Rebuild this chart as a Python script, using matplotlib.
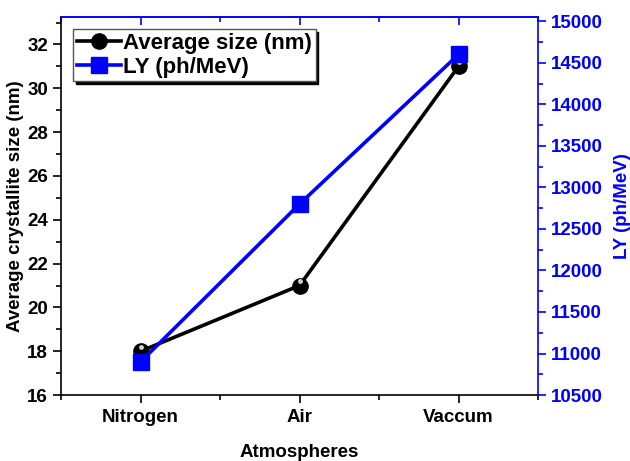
import matplotlib
matplotlib.use("Agg")
import matplotlib.pyplot as plt
from matplotlib.ticker import MultipleLocator

plt.rcParams['font.family'] = ['Liberation Sans', 'DejaVu Sans']
plt.rcParams['font.weight'] = 'bold'

categories = ["Nitrogen", "Air", "Vaccum"]
avg_size = [18, 21, 31]
ly = [10900, 12800, 14600]

x = [1, 2, 3]
fig = plt.figure(figsize=(6.3, 4.61), dpi=100)
ax = fig.add_axes([0.097, 0.143, 0.757, 0.82])
ax2 = ax.twinx()

black_line, = ax.plot(x, avg_size, color='black', lw=2.6, marker='o', ms=11,
                      mfc='black', mec='black', zorder=3, label='Average size (nm)')
ax.plot(x, [v + 0.2 for v in avg_size], ls='none', marker='o', ms=3.5,
        mfc='#d0d0d0', mec='none', zorder=4)
blue_line, = ax2.plot(x, ly, color='#0000ff', lw=2.6, marker='s', ms=11,
                      mfc='#0000ff', mec='#0000ff', zorder=3, label='LY (ph/MeV)')

ax.set_xlim(0.5, 3.5)
ax.set_ylim(16, 33.25)
ax2.set_ylim(10500, 15050)
ax.set_xticks(x)
ax.set_xticklabels(categories)
ax.xaxis.set_minor_locator(MultipleLocator(0.5))
ax.yaxis.set_major_locator(MultipleLocator(2))
ax.yaxis.set_minor_locator(MultipleLocator(1))
ax2.yaxis.set_major_locator(MultipleLocator(500))
ax2.yaxis.set_minor_locator(MultipleLocator(250))

fs = 13.5
ax.tick_params(axis='both', which='major', length=6, width=1.2, labelsize=fs, direction='out')
ax.tick_params(axis='both', which='minor', length=3.5, width=1.2, direction='out')
ax.tick_params(axis='x', which='both', top=False)
ax.tick_params(axis='x', which='major', pad=4)
ax2.tick_params(axis='y', which='major', length=6, width=1.2, labelsize=fs,
                colors='#0000ff', direction='out')
ax2.tick_params(axis='y', which='minor', length=3.5, width=1.2, colors='#0000ff', direction='out')
for lab in ax.get_xticklabels() + ax.get_yticklabels() + ax2.get_yticklabels():
    lab.set_fontweight('bold')

for s in ['left', 'bottom']:
    ax.spines[s].set_linewidth(1.2)
ax.spines['right'].set_visible(False)
ax.spines['top'].set_visible(False)
ax2.spines['left'].set_visible(False)
ax2.spines['bottom'].set_visible(False)
ax2.spines['right'].set_color('#0000ff')
ax2.spines['right'].set_linewidth(1.2)
ax2.spines['top'].set_color('#0000ff')
ax2.spines['top'].set_linewidth(1.2)
axt = ax.secondary_xaxis('top')
axt.set_xticks(x)
axt.set_xticklabels([])
axt.xaxis.set_minor_locator(MultipleLocator(0.5))
axt.tick_params(which='major', direction='in', length=6, width=1.2, colors='#0000ff')
axt.tick_params(which='minor', direction='in', length=3.5, width=1.2, colors='#0000ff')
axt.spines['top'].set_color('#0000ff')
axt.spines['top'].set_linewidth(1.2)

ax.set_xlabel('Atmospheres', fontsize=fs, fontweight='bold', labelpad=13)
ax.set_ylabel('Average crystallite size (nm)', fontsize=fs, fontweight='bold', labelpad=2)
ax2.set_ylabel('LY (ph/MeV)', fontsize=fs, fontweight='bold', color='#0000ff', labelpad=8)

leg = ax2.legend(handles=[black_line, blue_line], loc='upper left', bbox_to_anchor=(0.012, 0.985),
                 prop={'weight': 'bold', 'size': 16}, frameon=True,
                 shadow={'color': 'black', 'alpha': 1.0},
                 fancybox=False, handlelength=2.0, handletextpad=0.1, borderpad=0.15,
                 labelspacing=0.15, borderaxespad=0.3, framealpha=1.0)
leg.get_frame().set_edgecolor('#555555')
leg.get_frame().set_linewidth(1.0)

fig.savefig('out.png', dpi=100)
